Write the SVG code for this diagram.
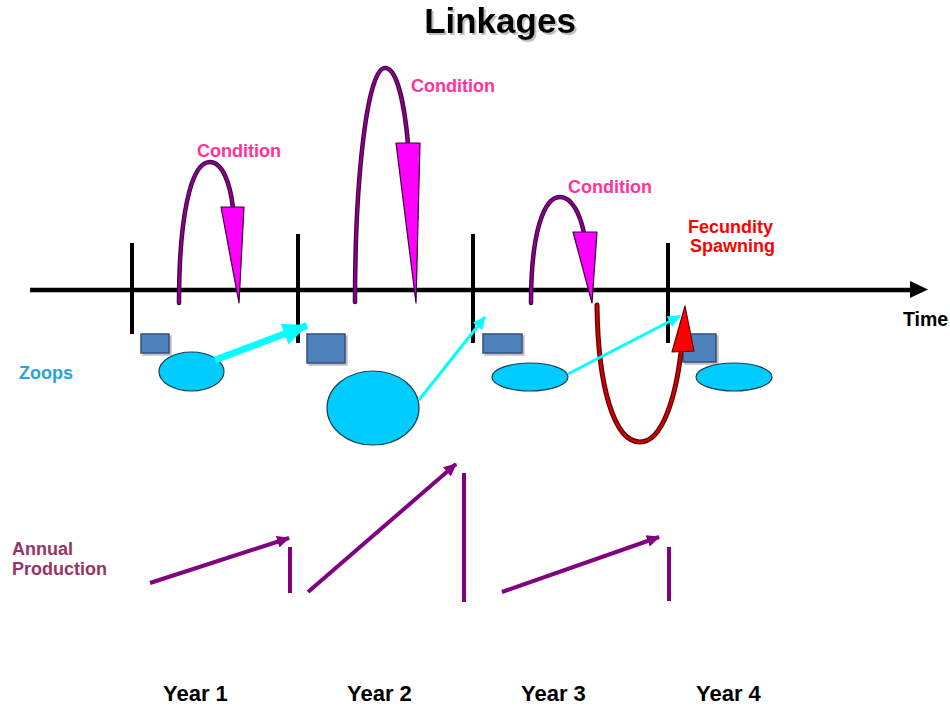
<svg xmlns="http://www.w3.org/2000/svg" width="950" height="709" viewBox="0 0 950 709">
<style>
text{font-family:"Liberation Sans",Arial,sans-serif;font-weight:bold}
.cond{fill:#FF3399;font-size:18px}
.year{fill:#000;font-size:22px}
.arcO{fill:none;stroke:#3a003a;stroke-width:4.5;stroke-linecap:round}
.arcI{fill:none;stroke:#8B008B;stroke-width:2.5;stroke-linecap:round}
.tri{fill:#FF00FF;stroke:#3a003a;stroke-width:1.2;stroke-linejoin:round}
.rect{fill:#4F81BD;stroke:#2F4F7F;stroke-width:1.5}
.ell{fill:#00CCFF;stroke:#1F3F4F;stroke-width:1.2}
.tick{stroke:#000;stroke-width:4}
.cyan{stroke:#00FFFF;fill:none}
.prod{stroke:#800080;stroke-width:4;fill:none}
</style>
<defs>
<marker id="cyanHead" markerUnits="userSpaceOnUse" markerWidth="14" markerHeight="12" refX="12" refY="6" orient="auto">
<path d="M0,0 L13,6 L0,12 Z" fill="#00FFFF"/>
</marker>
<marker id="cyanHeadBig" markerUnits="userSpaceOnUse" markerWidth="26" markerHeight="24" refX="24" refY="12" orient="auto">
<path d="M0,1 L25,12 L0,23 Z" fill="#00FFFF"/>
</marker>
<marker id="prodHead" markerUnits="userSpaceOnUse" markerWidth="14" markerHeight="12" refX="12" refY="6" orient="auto">
<path d="M0,0 L13,6 L0,12 Z" fill="#800080"/>
</marker>
<filter id="sh" x="-10%" y="-10%" width="130%" height="130%">
<feOffset dx="2" dy="2" in="SourceAlpha" result="o"/>
<feColorMatrix in="o" type="matrix" values="0 0 0 0 0.3 0 0 0 0 0.3 0 0 0 0 0.3 0 0 0 0.6 0" result="s"/>
<feMerge><feMergeNode in="s"/><feMergeNode in="SourceGraphic"/></feMerge>
</filter>
</defs>

<g id="title">
<text x="500" y="33" font-size="35" text-anchor="middle" fill="#000" filter="url(#sh)">Linkages</text>
</g>

<g id="timeline">
<line x1="30" y1="290" x2="912" y2="290" stroke="#000" stroke-width="4.5"/>
<path d="M910,281 L928,289.5 L910,298 Z" fill="#000"/>
<line class="tick" x1="132" y1="243" x2="132" y2="334"/>
<line class="tick" x1="298" y1="234" x2="298" y2="343"/>
<line class="tick" x1="473" y1="234" x2="473" y2="343"/>
<line class="tick" x1="668" y1="243" x2="668" y2="343"/>
<text x="903" y="326" font-size="19.5" fill="#000">Time</text>
</g>

<g id="labels">
<text x="19" y="379" font-size="18" fill="#29A3DB">Zoops</text>
<text x="12" y="555" font-size="18" fill="#993366">Annual</text>
<text x="12" y="575" font-size="18" fill="#993366">Production</text>
</g>

<g id="zoops">
<rect class="rect" x="141" y="334" width="28" height="19" filter="url(#sh)"/>
<rect class="rect" x="307" y="334" width="38" height="29" filter="url(#sh)"/>
<rect class="rect" x="483" y="334" width="39" height="19" filter="url(#sh)"/>
<rect class="rect" x="683" y="334" width="33" height="28" filter="url(#sh)"/>
<ellipse class="ell" cx="191.5" cy="371.5" rx="32.5" ry="19.5"/>
<ellipse class="ell" cx="373" cy="408" rx="46" ry="37"/>
<ellipse class="ell" cx="530" cy="377" rx="38" ry="14"/>
<ellipse class="ell" cx="734" cy="377" rx="38" ry="14"/>
</g>

<g id="condition1">
<path class="arcO" d="M179,303 C179,220 190,162 210,162 C222,162 230,182 233,208"/>
<path class="arcI" d="M179,303 C179,220 190,162 210,162 C222,162 230,182 233,208"/>
<polygon class="tri" points="221,207 244,207 239,303"/>
<text class="cond" x="197" y="157">Condition</text>
</g>

<g id="condition2">
<path class="arcO" d="M355,302 C355,180 367,68 385,68 C398,68 405,110 408,144"/>
<path class="arcI" d="M355,302 C355,180 367,68 385,68 C398,68 405,110 408,144"/>
<polygon class="tri" points="396,143 420,143 416,303"/>
<text class="cond" x="411" y="92">Condition</text>
</g>

<g id="condition3">
<path class="arcO" d="M531,303 C531,232 544,197 560,197 C572,197 580,214 584,233"/>
<path class="arcI" d="M531,303 C531,232 544,197 560,197 C572,197 580,214 584,233"/>
<polygon class="tri" points="573,232 597,232 592,303"/>
<text class="cond" x="568" y="193">Condition</text>
</g>

<g id="fecundity">
<path d="M597,305 C598,390 615,442 640,442 C663,442 676,395 681,352" fill="none" stroke="#5a0000" stroke-width="5" stroke-linecap="round"/>
<path d="M597,305 C598,390 615,442 640,442 C663,442 676,395 681,352" fill="none" stroke="#D00000" stroke-width="2.5" stroke-linecap="round"/>
<polygon points="672,352 694,351 685,306" fill="#FF0000" stroke="#600000" stroke-width="1.2" stroke-linejoin="round"/>
<text x="688" y="233" font-size="18" fill="#FF0000">Fecundity</text>
<text x="690" y="252" font-size="18" fill="#FF0000">Spawning</text>
</g>

<g id="connectors">
<line class="cyan" x1="215" y1="360" x2="307" y2="325.5" stroke-width="7" marker-end="url(#cyanHeadBig)"/>
<line class="cyan" x1="419" y1="400" x2="485" y2="317" stroke-width="3" marker-end="url(#cyanHead)"/>
<line class="cyan" x1="568" y1="374" x2="680" y2="316" stroke-width="3" marker-end="url(#cyanHead)"/>
</g>

<g id="production">
<line class="prod" x1="150" y1="583" x2="289" y2="538" marker-end="url(#prodHead)"/>
<line class="prod" x1="290" y1="547" x2="290" y2="593"/>
<line class="prod" x1="308" y1="592" x2="456" y2="464" marker-end="url(#prodHead)"/>
<line class="prod" x1="464" y1="473" x2="464" y2="602"/>
<line class="prod" x1="502" y1="592" x2="659" y2="537" marker-end="url(#prodHead)"/>
<line class="prod" x1="669" y1="547" x2="669" y2="601"/>
</g>

<g id="years">
<text class="year" x="163" y="701">Year 1</text>
<text class="year" x="347" y="701">Year 2</text>
<text class="year" x="521" y="701">Year 3</text>
<text class="year" x="696" y="701">Year 4</text>
</g>
</svg>
